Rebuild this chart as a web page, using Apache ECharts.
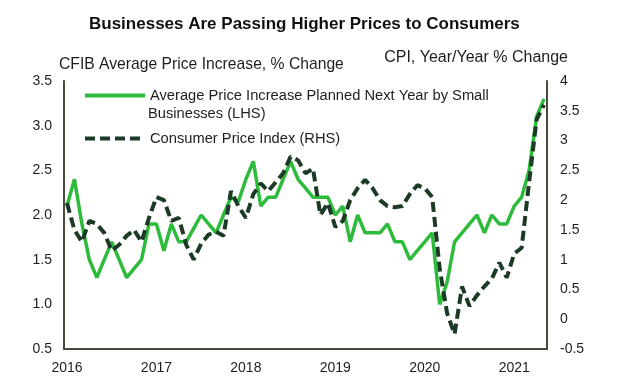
<!DOCTYPE html>
<html>
<head>
<meta charset="utf-8">
<script src="https://cdn.jsdelivr.net/npm/echarts@6/dist/echarts.min.js"></script>
<style>html,body{margin:0;padding:0;background:#fff;}#c{width:620px;height:388px;}</style>
</head>
<body>
<div id="c"></div>
<script>
// Monthly observations, Jan 2016 .. May 2021
const months = [
 '2016-01','2016-02','2016-03','2016-04','2016-05','2016-06','2016-07','2016-08','2016-09','2016-10','2016-11','2016-12',
 '2017-01','2017-02','2017-03','2017-04','2017-05','2017-06','2017-07','2017-08','2017-09','2017-10','2017-11','2017-12',
 '2018-01','2018-02','2018-03','2018-04','2018-05','2018-06','2018-07','2018-08','2018-09','2018-10','2018-11','2018-12',
 '2019-01','2019-02','2019-03','2019-04','2019-05','2019-06','2019-07','2019-08','2019-09','2019-10','2019-11','2019-12',
 '2020-01','2020-02','2020-03','2020-04','2020-05','2020-06','2020-07','2020-08','2020-09','2020-10','2020-11','2020-12',
 '2021-01','2021-02','2021-03','2021-04','2021-05'
];
// CFIB average price increase planned next year (LHS, %)
const cfib = [
 2.1,2.4,1.9,1.5,1.3,1.5,1.7,1.5,1.3,1.4,1.5,1.9,
 1.9,1.6,1.9,1.7,1.7,1.85,2.0,1.9,1.8,2.0,2.2,2.15,
 2.4,2.6,2.1,2.2,2.2,2.4,2.6,2.4,2.3,2.2,2.2,2.2,
 2.0,2.1,1.7,2.0,1.8,1.8,1.8,1.9,1.7,1.7,1.5,1.6,
 1.7,1.8,1.0,1.25,1.7,1.8,1.9,2.0,1.8,2.0,1.9,1.9,
 2.1,2.2,2.5,3.1,3.3
];
// CPI, year/year % change (RHS)
const cpi = [
 1.95,1.5,1.3,1.65,1.6,1.45,1.15,1.25,1.4,1.5,1.3,1.7,
 2.05,2.0,1.65,1.7,1.25,1.0,1.27,1.42,1.47,1.4,2.15,1.9,
 1.7,2.1,2.28,2.15,2.3,2.45,2.73,2.67,2.45,2.53,1.75,1.95,
 1.55,1.65,2.0,2.2,2.34,2.2,2.0,1.9,1.88,1.9,2.1,2.25,
 2.2,2.05,0.85,0.1,-0.25,0.55,0.22,0.4,0.55,0.68,0.95,0.7,
 1.1,1.2,2.3,3.35,3.6
];
const yearTickIdx = [0,12,24,36,48,60];
const legendNames = ['Average Price Increase Planned Next Year by Small','Consumer Price Index (RHS)'];

const axisColor = '#4a4a3c';
const txt = '#1e1e1e';
const FONT = '"Liberation Sans", Arial, sans-serif';

const chart = echarts.init(document.getElementById('c'), null, {renderer:'canvas'});
chart.setOption({
  animation:false,
  backgroundColor:'#fff',
  textStyle:{fontFamily:FONT},
  title:{
    text:'Businesses Are Passing Higher Prices to Consumers',
    left:84, top:11,
    textStyle:{fontSize:17, fontWeight:'bold', color:'#111', fontFamily:FONT}
  },
  graphic:[
    {type:'text', left:59, top:57, style:{text:'CFIB Average Price Increase, % Change', fontSize:15.7, fill:txt, fontFamily:FONT}},
    {type:'text', right:52, top:50, style:{text:'CPI, Year/Year % Change', fontSize:16, fill:txt, fontFamily:FONT}},
    {type:'text', left:148, top:106, style:{text:'Businesses (LHS)', fontSize:14.7, fill:txt, fontFamily:FONT}}
  ],
  legend:{
    orient:'vertical', left:83, top:88, padding:0,
    itemWidth:60, itemHeight:12, itemGap:28,
    itemStyle:{opacity:0},
    lineStyle:{width:4},
    textStyle:{fontSize:14.7, color:txt, fontFamily:FONT},
    data:legendNames
  },
  grid:{left:64, right:73, top:81, bottom:39, containLabel:false},
  xAxis:{
    type:'value', min:-0.4, max:64.4,
    axisLine:{show:true, onZero:false, lineStyle:{color:axisColor, width:2}},
    axisTick:{show:false},
    splitLine:{show:false},
    axisLabel:{
      customValues:yearTickIdx,
      formatter:function(v){ return months[Math.round(v)].slice(0,4); },
      fontSize:14, color:txt, margin:12, fontFamily:FONT
    }
  },
  yAxis:[
    {type:'value', min:0.5, max:3.5, interval:0.5, position:'left',
     axisLine:{show:true, onZero:false, lineStyle:{color:axisColor, width:2}},
     axisTick:{show:false}, splitLine:{show:false},
     axisLabel:{formatter:function(v){return v.toFixed(1);}, fontSize:14, color:txt, margin:12, fontFamily:FONT}},
    {type:'value', min:-0.5, max:4, interval:0.5, position:'right',
     axisLine:{show:true, onZero:false, lineStyle:{color:axisColor, width:2}},
     axisTick:{show:false}, splitLine:{show:false},
     axisLabel:{fontSize:14, color:txt, margin:13, fontFamily:FONT}}
  ],
  series:[
    {name:legendNames[0], type:'line', yAxisIndex:0, symbol:'none',
     data:cfib.map(function(v,i){return [i,v];}),
     lineStyle:{color:'#2cbb3a', width:3.5}, itemStyle:{color:'#2cbb3a'}},
    {name:legendNames[1], type:'line', yAxisIndex:1, symbol:'none',
     data:cpi.map(function(v,i){return [i,v];}),
     lineStyle:{color:'#1d3a26', width:4, type:[10,5]}, itemStyle:{color:'#1d3a26'}}
  ]
});
</script>
</body>
</html>
